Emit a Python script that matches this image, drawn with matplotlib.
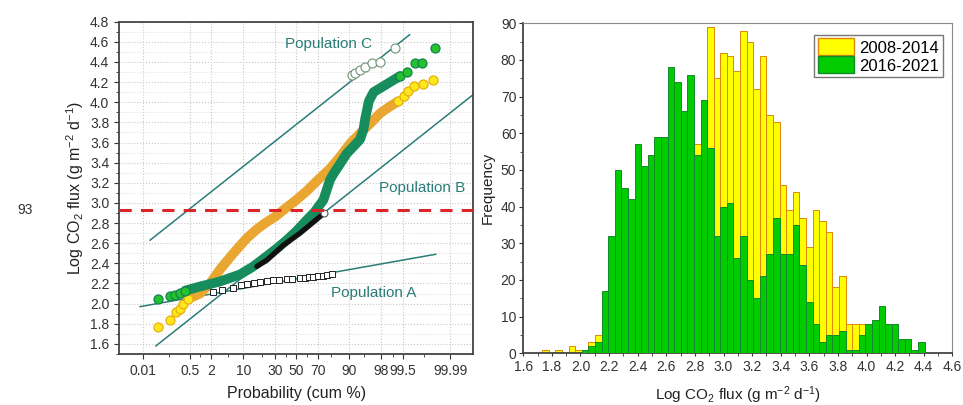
import numpy as np
import matplotlib
matplotlib.use("Agg")
import matplotlib.pyplot as plt
from matplotlib.patches import Patch
from statistics import NormalDist

plt.rcParams['font.family'] = ['Liberation Sans', 'DejaVu Sans']
plt.rcParams['mathtext.fontset'] = 'custom'
plt.rcParams['mathtext.rm'] = 'Liberation Sans'
plt.rcParams['mathtext.it'] = 'Liberation Sans:italic'
plt.rcParams['mathtext.bf'] = 'Liberation Sans:bold'

# === probability plot data: cumulative % and log CO2 flux ===
y08_low_p = [0.04, 0.11, 0.18, 0.24, 0.31, 0.45]
y08_low_v = [1.77, 1.84, 1.92, 1.95, 2.00, 2.05]
y08_band_p = [0.45, 0.99, 1.84, 3.24, 6.37, 11.5, 17.0, 23.6, 30.0, 40.0, 50.0, 60.0, 70.0,
              79.2, 85.5, 90.3, 93.8, 96.3, 97.85, 98.83, 99.32]
y08_band_v = [2.05, 2.10, 2.20, 2.34, 2.50, 2.65, 2.74, 2.81, 2.86, 2.95, 3.03, 3.12, 3.23,
              3.34, 3.46, 3.59, 3.69, 3.79, 3.89, 3.96, 4.01]
y08_high_p = [99.32, 99.52, 99.66, 99.77, 99.89, 99.954]
y08_high_v = [4.01, 4.06, 4.11, 4.16, 4.18, 4.22]

y16_low_p = [0.042, 0.11, 0.167, 0.244, 0.36]
y16_low_v = [2.05, 2.08, 2.09, 2.11, 2.13]
y16_band_p = [0.36, 0.99, 3.24, 8.65, 14.9, 23.6, 32.0, 40.7, 50.0, 59.9, 67.0, 74.3, 79.2,
              81.5, 85.5, 88.8, 91.6, 93.8, 94.75, 95.2, 95.6, 96.0, 96.9, 98.24, 99.05, 99.39]
y16_band_v = [2.13, 2.17, 2.22, 2.29, 2.37, 2.47, 2.55, 2.63, 2.72, 2.83, 2.91, 3.03, 3.23,
              3.29, 3.39, 3.49, 3.56, 3.63, 3.73, 3.84, 3.92, 4.01, 4.10, 4.16, 4.22, 4.26]
y16_high_p = [99.39, 99.62, 99.80, 99.88, 99.96]
y16_high_v = [4.26, 4.30, 4.39, 4.39, 4.54]

popA_p = [2.23, 3.55, 6.37, 9.0, 11.5, 15.0, 19.0, 24.0, 28.9, 34.0, 40.7, 46.0, 53.5,
          58.0, 62.0, 66.0, 70.0, 74.0, 77.0, 80.4]
popA_v = [2.12, 2.14, 2.16, 2.18, 2.19, 2.20, 2.21, 2.22, 2.23, 2.235, 2.24, 2.245, 2.25,
          2.255, 2.26, 2.26, 2.27, 2.275, 2.28, 2.29]
popB_p = [16.9, 23.6, 37.6, 53.5, 66.0, 73.0]
popB_v = [2.37, 2.43, 2.58, 2.70, 2.81, 2.88]
popB_end_p = [74.9]
popB_end_v = [2.90]
popC_p = [90.97, 92.2, 93.8, 95.2, 96.6, 97.85, 99.15]
popC_v = [4.27, 4.29, 4.32, 4.35, 4.39, 4.40, 4.54]

lineA_p = [0.0078, 99.962]
lineA_v = [1.97, 2.49]
lineB_p = [0.034, 99.9991]
lineB_v = [1.58, 4.08]
lineC_p = [0.02, 99.69]
lineC_v = [2.63, 4.67]
threshold = 2.93

prob_ticks = [0.01, 0.5, 2, 10, 30, 50, 70, 90, 98, 99.5, 99.99]
prob_labels = ['0.01', '0.5', '2', '10', '30', '50', '70', '90', '98', '99.5', '99.99']

# === histogram data ===
bin_start = 1.733
bin_w = 0.0461
counts_0814 = [1, 0, 1, 0, 2, 1, 1, 3, 5,
               10, 14, 18, 22, 26, 30, 33, 36, 40, 44, 47, 50, 53, 55, 57, 62,
               89, 75, 82, 81, 77, 88, 85, 72, 81, 65, 63, 46, 39, 44, 37, 29,
               39, 36, 33, 18, 21, 8, 8, 8,
               6, 5, 4, 3, 2, 0, 0, 0, 0]
counts_1621 = [0, 0, 0, 0, 0, 0, 1, 2, 3,
               17, 32, 50, 45, 42, 57, 51, 54, 59, 59, 78, 74, 66, 76, 54, 69,
               56, 32, 40, 41, 26, 32, 20, 15, 21, 27, 37, 27, 27, 35, 24, 14,
               8, 3, 5, 5, 6, 1, 1, 5,
               8, 9, 13, 8, 8, 4, 4, 1, 3]

nd = NormalDist()


def to_z(p):
    return np.array([nd.inv_cdf(v / 100.0) for v in p])


teal = '#2a7c78'
ylw_fill, ylw_edge, ylw_band = '#ffe81a', '#e8ae10', '#e9a630'
grn_fill, grn_edge, grn_band = '#25c22e', '#14844e', '#178c5c'

fig = plt.figure(figsize=(9.63, 4.05), dpi=100)

# === LEFT: probability plot ===
ax = fig.add_axes([0.1236, 0.126, 0.368, 0.8205])
ax.set_xlim(-4.29, 4.28)
ax.set_ylim(1.5, 4.8)

ax.set_xticks(to_z(prob_ticks))
ax.set_xticklabels(prob_labels)
ax.set_xticks(to_z([0.1, 1, 5, 20, 40, 60, 80, 95, 99, 99.9]), minor=True)
ax.set_yticks(np.round(np.arange(1.6, 4.81, 0.2), 1))
ax.set_yticks(np.round(np.arange(1.5, 4.81, 0.1), 1), minor=True)
ax.yaxis.set_major_formatter(plt.FormatStrFormatter('%.1f'))
ax.grid(True, which='major', ls=':', color='#c8c8c8', lw=0.8, zorder=0)
ax.grid(True, which='minor', axis='y', ls=':', color='#dedede', lw=0.7, zorder=0)
ax.tick_params(which='both', direction='out', labelsize=10, colors='#333333')
ax.tick_params(axis='x', which='minor', length=0)
ax.tick_params(which='minor', length=2.5)
for s in ax.spines.values():
    s.set_color('#444444')
    s.set_linewidth(1.3)

for lp, lv in [(lineA_p, lineA_v), (lineB_p, lineB_v), (lineC_p, lineC_v)]:
    ax.plot(to_z(lp), lv, color=teal, lw=1.1, zorder=2)

# 2008-2014
ax.plot(to_z(y08_band_p), y08_band_v, color=ylw_band, lw=7, solid_capstyle='round',
        solid_joinstyle='round', zorder=3)
ax.plot(to_z(y08_low_p), y08_low_v, 'o', ms=6.5, mfc=ylw_fill, mec=ylw_edge, mew=0.9, zorder=4)
ax.plot(to_z(y08_high_p), y08_high_v, 'o', ms=6.5, mfc=ylw_fill, mec=ylw_edge, mew=0.9, zorder=4)

# 2016-2021
ax.plot(to_z(y16_band_p), y16_band_v, color=grn_band, lw=7, solid_capstyle='round',
        solid_joinstyle='round', zorder=5)
ax.plot(to_z(y16_low_p), y16_low_v, 'o', ms=6.5, mfc=grn_fill, mec=grn_edge, mew=0.9, zorder=6)
ax.plot(to_z(y16_high_p), y16_high_v, 'o', ms=6.5, mfc=grn_fill, mec=grn_edge, mew=0.9, zorder=6)

# partitioned populations
ax.plot(to_z(popA_p), popA_v, 's', ms=4, mfc='white', mec='#222222', mew=0.7, zorder=7)
ax.plot(to_z(popB_p), popB_v, color='#111111', lw=3.8, solid_capstyle='round', zorder=7)
ax.plot(to_z(popB_end_p), popB_end_v, 'o', ms=5, mfc='white', mec='#444444', mew=0.7, zorder=8)
ax.plot(to_z(popC_p), popC_v, 'o', ms=6.5, mfc='white', mec='#6f9478', mew=0.8, zorder=7)

ax.axhline(threshold, color='#d8262a', lw=2.2, ls=(0, (4, 3)), zorder=9)

ax.text(0.59, 0.933, 'Population C', transform=ax.transAxes, ha='center', va='center',
        fontsize=11, color=teal)
ax.text(0.854, 0.499, 'Population B', transform=ax.transAxes, ha='center', va='center',
        fontsize=11, color=teal)
ax.text(0.72, 0.183, 'Population A', transform=ax.transAxes, ha='center', va='center',
        fontsize=11, color=teal)

ax.set_xlabel('Probability (cum %)', fontsize=11.5, color='#222222', labelpad=6)
ax.set_ylabel(r'Log CO$_2$ flux (g m$^{-2}$ d$^{-1}$)', fontsize=11.5, color='#222222', labelpad=3)

fig.text(0.026, 0.481, '93', fontsize=10, color='#333333', ha='center', va='center')

# === RIGHT: histogram ===
bx = fig.add_axes([0.5434, 0.1277, 0.4455, 0.8148])
left_edges = bin_start + bin_w * np.arange(len(counts_1621))
bx.bar(left_edges, counts_0814, width=bin_w, align='edge', color='#ffff00',
       edgecolor='#e0870a', linewidth=0.7, zorder=2)
bx.bar(left_edges, counts_1621, width=bin_w, align='edge', color='#00cc00',
       edgecolor='#138a2a', linewidth=0.7, zorder=3)
bx.set_xlim(1.6, 4.6)
bx.set_ylim(0, 90)
bx.set_xticks(np.round(np.arange(1.6, 4.61, 0.2), 1))
bx.set_xticks(np.round(np.arange(1.6, 4.61, 0.1), 1), minor=True)
bx.xaxis.set_major_formatter(plt.FormatStrFormatter('%.1f'))
bx.set_yticks(np.arange(0, 91, 10))
bx.set_yticks(np.arange(0, 91, 5), minor=True)
bx.tick_params(which='both', direction='out', labelsize=10, colors='#333333', length=3, pad=2)
bx.tick_params(axis='x', which='both', length=2.5, pad=2)
bx.tick_params(which='minor', length=2)
for side in ['top', 'right']:
    bx.spines[side].set_color('#8a8a8a')
for side in ['left', 'bottom']:
    bx.spines[side].set_color('#444444')
    bx.spines[side].set_linewidth(1.3)
bx.set_ylabel('Frequency', fontsize=11, color='#222222', labelpad=4)
bx.set_xlabel(r'Log CO$_2$ flux (g m$^{-2}$ d$^{-1}$)', fontsize=11, color='#222222', labelpad=8)

handles = [Patch(facecolor='#ffff00', edgecolor='#e0870a', label='2008-2014'),
           Patch(facecolor='#00cc00', edgecolor='#138a2a', label='2016-2021')]
leg = bx.legend(handles=handles, loc='upper right', bbox_to_anchor=(0.9776, 0.9645),
                borderaxespad=0, fontsize=12, fancybox=False, framealpha=1,
                edgecolor='#777777', borderpad=0.2, handlelength=2.2, handleheight=1.2,
                handletextpad=0.3, labelspacing=0.05)
leg.get_frame().set_linewidth(1.0)

fig.savefig('out.png', dpi=100)
